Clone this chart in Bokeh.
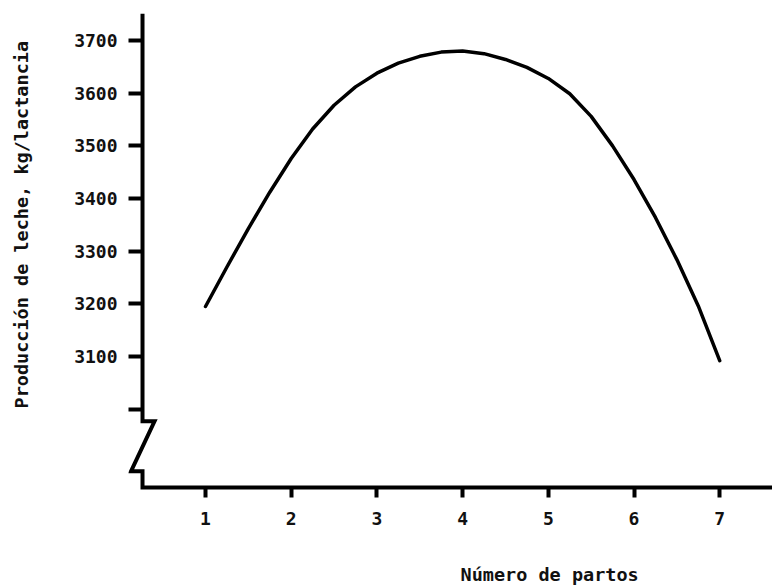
from bokeh.plotting import figure
from bokeh.models import Range1d, FixedTicker, Title
from bokeh.embed import file_html
from bokeh.resources import INLINE

# ---- data ----
partos = [1, 1.25, 1.5, 1.75, 2, 2.25, 2.5, 2.75, 3, 3.25, 3.5, 3.75, 4,
          4.25, 4.5, 4.75, 5, 5.25, 5.5, 5.75, 6, 6.25, 6.5, 6.75, 7]
leche = [3195, 3270, 3343, 3412, 3476, 3532, 3577, 3612, 3638, 3657, 3670, 3678, 3680,
         3675, 3664, 3649, 3628, 3599, 3556, 3500, 3436, 3364, 3284, 3196, 3092]

x_ticks = [1, 2, 3, 4, 5, 6, 7]
y_ticks = [3000, 3100, 3200, 3300, 3400, 3500, 3600, 3700]
y_hidden_label = 3000

x_title = "Número de partos"
y_title = "Producción de leche, kg/lactancia"

# axis geometry (data units)
X0, X1 = 0.1015, 7.616
Y0, Y1 = 2832.3, 3751.3
AXIS_X = 0.265      # where the vertical axis line sits
AXIS_Y = 2851.3     # where the horizontal axis line sits
BREAK_HI, BREAK_LO = 2977, 2882
BREAK_RIGHT, BREAK_LEFT = 0.405, 0.13

FONT = "DejaVu Sans Mono"
INK = "#111111"
SPACER = "\u00a0"

p = figure(width=772, height=587, output_backend="svg", toolbar_location=None,
           x_range=Range1d(X0, X1), y_range=Range1d(Y0, Y1),
           min_border_left=128, min_border_right=0, min_border_top=13,
           min_border_bottom=90)
p.outline_line_color = None
p.grid.visible = False
p.background_fill_color = "white"
p.border_fill_color = "white"

# axes: ticks and labels from Bokeh, axis lines drawn as a broken polyline
for ax in (p.xaxis[0], p.yaxis[0]):
    ax.axis_line_color = None
    ax.minor_tick_line_color = None
    ax.major_tick_out = 0
    ax.major_tick_line_color = "black"
    ax.major_label_text_font = FONT
    ax.major_label_text_font_style = "bold"
    ax.major_label_text_font_size = "18px"
    ax.major_label_text_color = INK
    ax.axis_label = SPACER          # blank spacer pushes the titles outward
    ax.axis_label_text_font = FONT
    ax.axis_label_text_font_size = "18px"

p.xaxis.ticker = FixedTicker(ticks=x_ticks)
p.xaxis.major_tick_in = 10
p.xaxis.major_tick_line_width = 4
p.xaxis.major_label_standoff = 14
p.xaxis.axis_label_standoff = 10

p.yaxis.ticker = FixedTicker(ticks=y_ticks)
p.yaxis.major_label_overrides = {y_hidden_label: ""}
p.yaxis.major_tick_in = 14
p.yaxis.major_tick_line_width = 4
p.yaxis.major_label_standoff = 11
p.yaxis.axis_label_standoff = 16

# broken axis line
ax_x = [AXIS_X, AXIS_X, BREAK_RIGHT, BREAK_LEFT, AXIS_X, AXIS_X, X1]
ax_y = [Y1, BREAK_HI, BREAK_HI, BREAK_LO, BREAK_LO, AXIS_Y, AXIS_Y]
p.line(ax_x, ax_y, line_color="black", line_width=4, line_join="miter")

# curve
p.line(partos, leche, line_color="black", line_width=3.5, line_join="round",
       line_cap="round")

# titles
p.add_layout(Title(text=y_title, align="left", offset=89, standoff=0,
                   text_font=FONT, text_font_style="bold",
                   text_font_size="18.5px", text_color=INK), "left")
p.add_layout(Title(text=x_title, align="left", offset=332, standoff=0,
                   text_font=FONT, text_font_style="bold",
                   text_font_size="18.5px", text_color=INK), "below")

open("out.html", "w").write(file_html(p, INLINE))
